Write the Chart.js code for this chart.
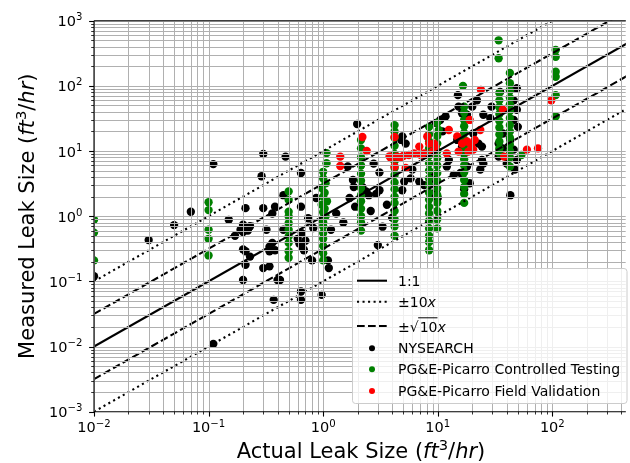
<!DOCTYPE html>
<html>
<head>
<meta charset="utf-8">
<script src="https://cdn.jsdelivr.net/npm/chart.js@4.4.1/dist/chart.umd.min.js"></script>
<style>
  body { margin: 0; background: #fff; }
  #wrap { width: 630px; height: 463px; }
</style>
</head>
<body>
<div id="wrap"><canvas id="myChart" width="630" height="463"></canvas></div>
<script>
// axis limits (log scale both ways)
const xMin = 0.01, xMax = 438;
const yMin = 0.001, yMax = 1000;
const xTickExps = [-2, -1, 0, 1, 2];
const yTickExps = [-3, -2, -1, 0, 1, 2, 3];

// reference lines y = k * x
const lineX = [0.01, 1000];
const oneToOne = 1;
const tenX = 10;
const rootTenX = Math.sqrt(10);

// NYSEARCH (actual, measured)
const nysearch = [
  [0.01,0.12],[0.03,0.43],[0.05,0.73],[0.07,1.17],[0.11,6.3],[0.11,0.011],
  [0.15,0.88],[0.17,0.5],[0.19,0.62],[0.2,0.74],[0.21,0.66],[0.22,0.6],[0.23,0.7],[0.2,0.57],[0.21,1.33],
  [0.2,0.31],[0.21,0.29],[0.23,0.24],[0.21,0.18],[0.2,0.105],
  [0.29,4.1],[0.3,9.0],[0.3,1.33],[0.32,0.62],[0.3,0.16],[0.34,0.17],[0.34,0.34],[0.36,0.39],[0.34,0.29],[0.38,0.3],[0.36,1.1],[0.38,1.4],
  [0.47,8.2],[0.45,2.1],[0.45,0.62],[0.4,0.105],[0.42,0.105],[0.37,0.052],
  [0.64,4.6],[0.64,1.4],[0.65,0.55],[0.6,0.45],[0.62,0.38],[0.66,0.33],[0.7,0.42],[0.68,0.3],[0.64,0.052],[0.64,0.07],
  [0.74,0.93],[0.82,0.66],[0.8,0.21],[0.87,1.9],[0.97,0.062],
  [1.17,0.62],[1.1,0.21],[1.12,0.16],[1.3,1.1],[1.5,0.8],
  [1.64,5.8],[1.82,3.6],[1.85,2.8],[1.98,26],[1.7,1.9],[1.9,1.4],
  [2.2,2.8],[2.37,2.4],[2.5,2.1],[2.9,2.2],[3.1,2.5],[2.76,6.4],[3.1,4.7],[3.0,0.36],[3.3,0.69],[4.0,0.95],[3.6,1.5],[2.6,1.2],
  [4.8,14.8],[5.25,13],[4.9,16.7],[6.0,5.2],[5.8,3.8],[6.9,3.4],[5.1,3.4],[4.9,2.5],[7.6,3.0],[8.7,4.6],[9.5,3.6],[9.8,2.6],[10,1.9],[9.2,2.2],
  [10.5,30],[9.6,27],[11,20],[11.7,34],[12,5.8],[12.5,7.3],[13.8,4.3],[15.8,4.6],[18,5.8],[14.8,14.8],[16.3,11.7],[17,9.2],
  [20.4,18.6],[22.7,13],[24.3,11.7],[24.3,7.3],[25,6.4],[23.5,5.2],[19,3.2],[17,2.6],
  [15,72],[15.2,48],[16.3,38],[18,36],[20,48],[25,36],[29.5,48],[28.7,32],[22,60],
  [35,81],[43,87],[49,92],[46,60],[49,43],[46,30],[50,23.5],[37,18.6],[43,14.8],[34,13],[37,11],[46,10.5],[49,7.3],[40,6.4],[47,5.2],[43,2.1],[34,8.2]
];

// PG&E-Picarro Controlled Testing
const controlled = [
  [0.01,0.88],[0.01,0.56],[0.01,0.21],
  [0.1,1.64],[0.1,1.24],[0.1,0.62],[0.1,0.45],[0.1,0.25],
  [0.5,2.4],[0.5,1.78],[0.5,1.17],[0.5,0.99],[0.5,0.78],[0.5,0.62],[0.5,0.49],[0.5,0.39],[0.5,0.29],[0.5,0.23],
  [1.07,9.3],[1.07,6.5],[1.0,4.8],[1.0,3.8],[1.05,3.2],[0.97,2.7],[1.03,2.3],[1.0,2.0],[1.08,1.7],[0.97,1.5],[1.03,1.3],
  [1.0,1.15],[1.05,1.0],[0.98,0.9],[1.0,0.8],[1.0,0.7],[1.0,0.55],[1.0,0.45],[1.0,0.35],[1.0,0.27],[1.0,0.21],
  [2.14,14.8],[2.14,11],[2.14,8],[2.14,6],[2.14,4.5],[2.14,3.5],[2.14,2.7],[2.14,2.1],[2.14,1.7],[2.14,1.3],[2.14,1.0],[2.14,0.8],[2.14,0.6],
  [4.2,25],[4.2,20],[4.2,16],[4.2,12],[4.2,9],[4.2,7],[4.2,5.5],[4.2,4.3],[4.2,3.3],[4.2,2.6],[4.2,2.0],[4.2,1.6],[4.2,1.2],[4.2,0.9],[4.2,0.7],[4.2,0.5],
  [8.4,23.5],[8.4,18],[8.4,14],[8.4,11],[8.4,8.5],[8.4,6.5],[8.4,5],[8.4,3.8],[8.4,3],[8.4,2.3],[8.4,1.8],[8.4,1.4],[8.4,1.1],[8.4,0.85],[8.4,0.65],[8.4,0.5],[8.4,0.4],[8.4,0.3],
  [9.9,27],[10.2,21],[9.9,17],[9.9,13],[9.9,10],[9.9,7.8],[9.9,6],[9.9,4.6],[9.9,3.5],[9.9,2.7],[9.9,2.1],[9.9,1.6],[9.9,1.2],[9.9,0.9],[9.9,0.65],
  [16.6,100],[17,48],[17,39],[17,30],[17,24],[17,19],[17,15],[17,12],[17,9.5],[17,7.5],[17,6],[17,4.7],[17,3.6],[17,2.8],[17,2.2],[17,1.6],
  [34,500],[34,265],[34.5,78],[34.5,60],[34.5,47],[34.5,37],[34.5,29],[34.5,23],[34.5,18],[34.5,14],[34.5,11],[34.5,9.3],
  [42.6,158],[42.6,110],[42.6,85],[42.6,66],[42.6,52],[42.6,41],[42.6,32],[42.6,25],[42.6,20],[42.6,16],[42.6,12.5],[42.6,10],[42.6,8],[42.6,5.8],
  [53.7,8.7],
  [107,355],[107,280],[107,165],[107,138],[107,72],[107,34]
];

// PG&E-Picarro Field Validation
const field = [
  [1.41,8.2],[1.41,5.9],[2.2,16.4],[2.4,10],
  [3.9,7.8],[4.2,16.4],[4.2,5.8],[5.25,5.5],[3.8,8.3],[4.4,8.2],[4.7,8.0],[5.0,8.4],[5.6,8.7],[6.2,9.2],[7.1,8.7],[7.6,9.2],[9.0,9.8],
  [8.1,16.7],[6.9,11.7],[8.4,13],[9.3,13],[9.6,11.7],[12,9.2],
  [12.5,21],[19,30],[23.8,87],[23.5,21],
  [14.8,16.7],[16.3,13],[18,14],[19.6,12.4],[21,14.8],[18.5,9.8],[20.4,10.5],[15.2,9.8],
  [37,43],[38,8.2],[60,10.5],[75,11],[98,60]
];

const FONT = '"DejaVu Sans", sans-serif';
const toPts = arr => arr.map(p => ({ x: p[0], y: p[1] }));
const linePts = k => lineX.map(x => ({ x: x, y: x * k }));

function partFont(p, size) {
  const s = p.sup ? size * 0.7 : size;
  return (p.it ? 'italic ' : '') + s + 'px ' + FONT;
}
function richWidth(ctx, parts, size) {
  let w = 0;
  parts.forEach(p => { ctx.font = partFont(p, size); w += ctx.measureText(p.t).width; });
  return w;
}
// draw mixed text (italic / superscript pieces), y = baseline
function drawRich(ctx, parts, x, y, size, align, raise) {
  const w = richWidth(ctx, parts, size);
  let cx = align === 'center' ? x - w / 2 : align === 'right' ? x - w : x;
  ctx.textAlign = 'left';
  ctx.textBaseline = 'alphabetic';
  parts.forEach(p => {
    ctx.font = partFont(p, size);
    ctx.fillText(p.t, cx, p.sup ? y - raise : y);
    cx += ctx.measureText(p.t).width;
  });
}
function expLabel(e) {
  return [{ t: '10' }, { t: (e < 0 ? '\u2212' : '') + Math.abs(e), sup: true }];
}
function minorValues(lo, hi) {
  const out = [];
  for (let k = -4; k <= 4; k++) {
    for (let m = 1; m <= 9; m++) {
      const v = m * Math.pow(10, k);
      if (v >= lo * 0.999 && v <= hi * 1.001) out.push({ v: v, major: m === 1 });
    }
  }
  return out;
}

const axesPlugin = {
  id: 'axesPlugin',
  afterDatasetsDraw(chart) {
    const ctx = chart.ctx, a = chart.chartArea;
    const xs = chart.scales.x, ys = chart.scales.y;
    const xt = minorValues(xMin, xMax), yt = minorValues(yMin, yMax);
    ctx.save();
    // grid over the markers, like the original
    ctx.beginPath();
    ctx.rect(a.left, a.top, a.right - a.left, a.bottom - a.top);
    ctx.clip();
    ctx.strokeStyle = '#b0b0b0';
    ctx.lineWidth = 1;
    xt.forEach(t => {
      const px = Math.round(xs.getPixelForValue(t.v)) + 0.5;
      ctx.beginPath(); ctx.moveTo(px, a.top); ctx.lineTo(px, a.bottom); ctx.stroke();
    });
    yt.forEach(t => {
      const py = Math.round(ys.getPixelForValue(t.v)) + 0.5;
      ctx.beginPath(); ctx.moveTo(a.left, py); ctx.lineTo(a.right, py); ctx.stroke();
    });
    ctx.restore();

    ctx.save();
    ctx.strokeStyle = '#000';
    // spines
    ctx.lineWidth = 1.1;
    ctx.beginPath();
    ctx.moveTo(a.left, a.top); ctx.lineTo(a.left, a.bottom); ctx.lineTo(a.right, a.bottom);
    ctx.moveTo(a.left, a.top); ctx.lineTo(a.right, a.top);
    ctx.stroke();
    // ticks
    xt.forEach(t => {
      const px = Math.round(xs.getPixelForValue(t.v)) + 0.5;
      ctx.lineWidth = t.major ? 1.1 : 0.8;
      ctx.beginPath(); ctx.moveTo(px, a.bottom); ctx.lineTo(px, a.bottom + (t.major ? 4.9 : 2.8)); ctx.stroke();
    });
    yt.forEach(t => {
      const py = Math.round(ys.getPixelForValue(t.v)) + 0.5;
      ctx.lineWidth = t.major ? 1.1 : 0.8;
      ctx.beginPath(); ctx.moveTo(a.left, py); ctx.lineTo(a.left - (t.major ? 4.9 : 2.8), py); ctx.stroke();
    });
    // tick labels
    ctx.fillStyle = '#000';
    xTickExps.forEach(e => {
      const px = xs.getPixelForValue(Math.pow(10, e));
      drawRich(ctx, expLabel(e), px, a.bottom + 20, 14.5, 'center', 5);
    });
    yTickExps.forEach(e => {
      const py = ys.getPixelForValue(Math.pow(10, e));
      drawRich(ctx, expLabel(e), a.left - 11.5, py + 5.5, 14.5, 'right', 6);
    });
    // axis titles
    const unit = [{ t: 'ft', it: true }, { t: '3', sup: true }, { t: '/' }, { t: 'hr', it: true }, { t: ')' }];
    drawRich(ctx, [{ t: 'Actual Leak Size (' }].concat(unit), (a.left + 628) / 2, 458, 21, 'center', 8);
    ctx.save();
    ctx.translate(34, (a.top + a.bottom) / 2);
    ctx.rotate(-Math.PI / 2);
    drawRich(ctx, [{ t: 'Measured Leak Size (' }].concat(unit), 0, 0, 21, 'center', 8);
    ctx.restore();
    ctx.restore();
  },
  afterDraw(chart) {
    const ctx = chart.ctx;
    const bx = 352.5, by = 268.5, bw = 274.5, bh = 135;
    ctx.save();
    ctx.fillStyle = 'rgba(255,255,255,0.8)';
    ctx.strokeStyle = '#cccccc';
    ctx.lineWidth = 1;
    ctx.beginPath();
    ctx.roundRect(bx, by, bw, bh, 3);
    ctx.fill(); ctx.stroke();

    const x0 = 357, x1 = 387, tx = 398;
    const rows = [280.7, 301.7, 326, 348.3, 369.3, 391];
    const dashes = [[], [2.08, 3.44], [7.7, 3.3]];
    ctx.strokeStyle = '#000';
    ctx.lineWidth = 2.08;
    ctx.lineCap = 'butt';
    dashes.forEach((d, i) => {
      ctx.setLineDash(d);
      ctx.beginPath(); ctx.moveTo(x0, rows[i]); ctx.lineTo(x1, rows[i]); ctx.stroke();
    });
    ctx.setLineDash([]);
    const cols = ['#000000', '#008000', '#ff0000'];
    cols.forEach((c, i) => {
      ctx.fillStyle = c;
      ctx.beginPath(); ctx.arc(372, rows[3 + i], 3, 0, Math.PI * 2); ctx.fill();
    });

    ctx.fillStyle = '#000';
    const fs = 14;
    const base = r => r + 5;
    drawRich(ctx, [{ t: '1:1' }], tx, base(rows[0]), fs, 'left', 0);
    drawRich(ctx, [{ t: '\u00b110' }, { t: 'x', it: true }], tx, base(rows[1]), fs, 'left', 0);
    // ±√10x with the radical bar
    ctx.font = fs + 'px ' + FONT;
    const wpm = ctx.measureText('\u00b1').width;
    const wrad = ctx.measureText('\u221a').width;
    const w10 = ctx.measureText('10').width;
    const yb = base(rows[2]) + 1;
    ctx.textAlign = 'left'; ctx.textBaseline = 'alphabetic';
    ctx.fillText('\u00b1', tx, yb);
    ctx.fillText('\u221a', tx + wpm, yb);
    ctx.fillText('10', tx + wpm + wrad + 1, yb);
    ctx.lineWidth = 1;
    ctx.beginPath();
    ctx.moveTo(tx + wpm + wrad - 0.5, yb - 14.2);
    ctx.lineTo(tx + wpm + wrad + 1 + w10, yb - 14.2);
    ctx.stroke();
    ctx.font = 'italic ' + fs + 'px ' + FONT;
    ctx.fillText('x', tx + wpm + wrad + 1 + w10, yb);
    ['NYSEARCH', 'PG&E-Picarro Controlled Testing', 'PG&E-Picarro Field Validation'].forEach((s, i) => {
      drawRich(ctx, [{ t: s }], tx, base(rows[3 + i]), fs, 'left', 0);
    });
    ctx.restore();
  }
};

const ctx = document.getElementById('myChart').getContext('2d');

const pointSet = (label, data, color, order) => ({
  label: label,
  data: toPts(data),
  backgroundColor: color,
  borderWidth: 0,
  pointRadius: 4.17,
  pointHoverRadius: 4.17,
  clip: 0,
  order: order
});
const lineSet = (label, k, dash) => ({
  label: label,
  data: linePts(k),
  showLine: true,
  borderColor: '#000',
  borderWidth: 2.08,
  borderDash: dash,
  borderCapStyle: 'butt',
  pointRadius: 0,
  fill: false,
  clip: 0,
  order: 0
});

window.myChart = new Chart(ctx, {
  type: 'scatter',
  data: {
    datasets: [
      lineSet('1:1', oneToOne, []),
      lineSet('+10x', tenX, [2.08, 3.44]),
      lineSet('-10x', 1 / tenX, [2.08, 3.44]),
      lineSet('+sqrt10x', rootTenX, [7.7, 3.3]),
      lineSet('-sqrt10x', 1 / rootTenX, [7.7, 3.3]),
      pointSet('NYSEARCH', nysearch, '#000000', 3),
      pointSet('PG&E-Picarro Controlled Testing', controlled, '#008000', 2),
      pointSet('PG&E-Picarro Field Validation', field, '#ff0000', 1)
    ]
  },
  options: {
    responsive: false,
    animation: false,
    layout: { padding: { left: 94, right: 0, top: 20.7, bottom: 51.3 } },
    scales: {
      x: { type: 'logarithmic', min: xMin, max: xMax, display: false },
      y: { type: 'logarithmic', min: yMin, max: yMax, display: false }
    },
    plugins: {
      legend: { display: false },
      tooltip: { enabled: false }
    }
  },
  plugins: [axesPlugin]
});
</script>
</body>
</html>
